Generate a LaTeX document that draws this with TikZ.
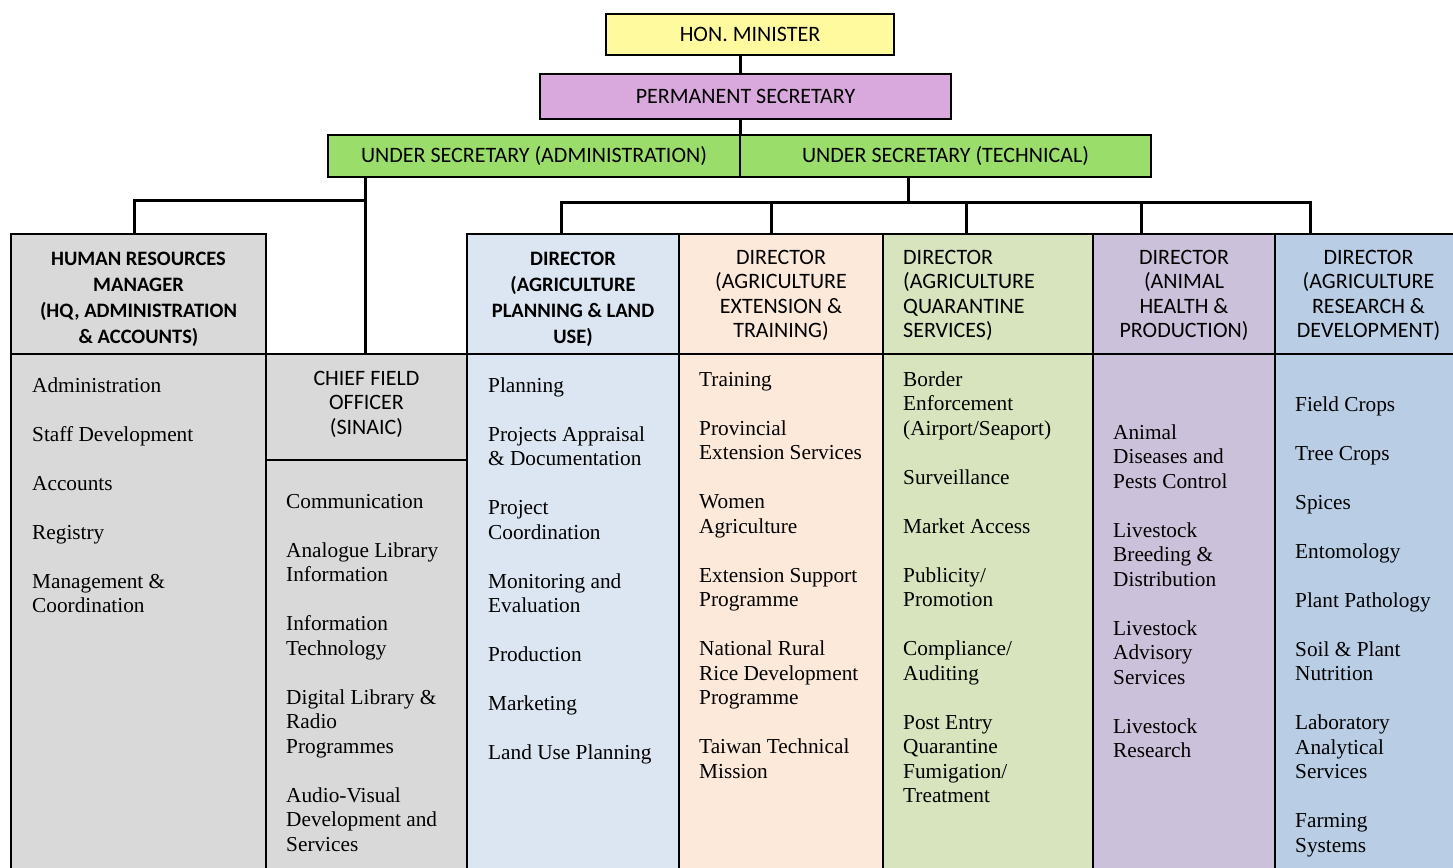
\documentclass[tikz,border=0pt]{standalone}
\usepackage{fontspec}
\setmainfont{Liberation Serif}
\newfontfamily\hfont{Carlito}
\definecolor{cMin}{HTML}{FFFA9E}
\definecolor{cPS}{HTML}{D9A8DC}
\definecolor{cUS}{HTML}{9ADD6A}
\definecolor{cGray}{HTML}{D9D9D9}
\definecolor{cPlan}{HTML}{DCE6F2}
\definecolor{cExt}{HTML}{FDE9D9}
\definecolor{cQuar}{HTML}{D7E4BD}
\definecolor{cAnim}{HTML}{CCC1DA}
\definecolor{cRes}{HTML}{B9CDE5}

% rectangle node from its corner coordinates: name, x1, y1, x2, y2, fill
\newcommand\orgbox[6]{%
  \node[box, fill=#6, minimum width={(#4-#2)*1pt}, minimum height={(#5-#3)*1pt}]
    (#1) at ({(#2+#4)/2},{(#3+#5)/2}) {};}
% one text node per line; empty entries leave a blank line
\newcommand\lines[6]{%
  \foreach \t [count=\i from 0] in {#6}
    \node[#5] (#1-\i) at (#2,{#3+\i*#4}) {\t};}

\begin{document}
\begin{tikzpicture}[x=1pt,y=-1pt,
  box/.style={draw=black, line width=2.2pt, inner sep=0pt, outer sep=0pt, rectangle},
  link/.style={draw=black, line width=3pt},
  toptext/.style={font=\hfont\fontsize{22}{24}\selectfont},
  item/.style={anchor=base west, inner sep=0pt, font=\fontsize{21.3}{24.5}\selectfont},
  hreg/.style={anchor=base, inner sep=0pt, font=\hfont\fontsize{22}{24.5}\selectfont},
  hregl/.style={anchor=base west, inner sep=0pt, font=\hfont\fontsize{22}{24.5}\selectfont},
  hbold/.style={anchor=base, inner sep=0pt, font=\hfont\bfseries\fontsize{20.5}{26}\selectfont},
]
\useasboundingbox (0,0) rectangle (1453,867);
\fill[white] (0,0) rectangle (1453,867);
\clip (0,0) rectangle (1453,867);

% top of the hierarchy
\orgbox{minister}{606}{14}{894}{55}{cMin}
\orgbox{ps}{540}{74}{951}{119}{cPS}
\orgbox{usadmin}{328}{135}{740}{177}{cUS}
\orgbox{ustech}{740}{135}{1151}{177}{cUS}
\node[toptext] at (minister) {HON. MINISTER};
\node[toptext] at (ps) {PERMANENT SECRETARY};
\node[toptext] at (usadmin) {UNDER SECRETARY (ADMINISTRATION)};
\node[toptext] at (ustech) {UNDER SECRETARY (TECHNICAL)};

% department columns: bodies first, then headers
\orgbox{hrbody}{11}{354}{266}{900}{cGray}
\orgbox{cfobody}{266}{460}{467}{900}{cGray}
\orgbox{planbody}{467}{354}{679}{900}{cPlan}
\orgbox{extbody}{679}{354}{883}{900}{cExt}
\orgbox{quarbody}{883}{354}{1093}{900}{cQuar}
\orgbox{animbody}{1093}{354}{1275}{900}{cAnim}
\orgbox{resbody}{1275}{354}{1475}{900}{cRes}

\orgbox{hr}{11}{234}{266}{354}{cGray}
\orgbox{cfo}{266}{354}{467}{460}{cGray}
\orgbox{plan}{467}{234}{679}{354}{cPlan}
\orgbox{ext}{679}{234}{883}{354}{cExt}
\orgbox{quar}{883}{234}{1093}{354}{cQuar}
\orgbox{anim}{1093}{234}{1275}{354}{cAnim}
\orgbox{res}{1275}{234}{1475}{354}{cRes}

% header titles
\lines{hrt}{138.5}{265}{26}{hbold}{HUMAN RESOURCES,MANAGER,{(HQ, ADMINISTRATION},\& ACCOUNTS)}
\lines{cfot}{366.5}{385}{24.5}{hreg}{CHIEF FIELD,OFFICER,{(SINAIC)}}
\lines{plant}{573}{265}{26}{hbold}{DIRECTOR,{(AGRICULTURE},PLANNING \& LAND,USE)}
\lines{extt}{781}{264}{24.5}{hreg}{DIRECTOR,{(AGRICULTURE},EXTENSION \&,TRAINING)}
\lines{quart}{903}{264}{24.5}{hregl}{DIRECTOR,{(AGRICULTURE},QUARANTINE,SERVICES)}
\lines{animt}{1184}{264}{24.5}{hreg}{DIRECTOR,{(ANIMAL},HEALTH \&,PRODUCTION)}
\lines{rest}{1368.5}{264}{24.5}{hreg}{DIRECTOR,{(AGRICULTURE},RESEARCH \&,DEVELOPMENT)}

% units under each head
\lines{hri}{32}{392}{24.5}{item}{Administration,,Staff Development,,Accounts,,Registry,,Management \&,Coordination}
\lines{cfoi}{286}{508}{24.5}{item}{Communication,,Analogue Library,Information,,Information,Technology,,Digital Library \&,Radio,Programmes,,Audio-Visual,Development and,Services}
\lines{plani}{488}{392}{24.5}{item}{Planning,,Projects Appraisal,\& Documentation,,Project,Coordination,,Monitoring and,Evaluation,,Production,,Marketing,,Land Use Planning}
\lines{exti}{699}{386}{24.5}{item}{Training,,Provincial,Extension Services,,Women,Agriculture,,Extension Support,Programme,,National Rural,Rice Development,Programme,,Taiwan Technical,Mission}
\lines{quari}{903}{386}{24.5}{item}{Border,Enforcement,{(Airport/Seaport)},,Surveillance,,Market Access,,Publicity/,Promotion,,Compliance/,Auditing,,Post Entry,Quarantine,Fumigation/,Treatment}
\lines{animi}{1113}{439}{24.5}{item}{Animal,Diseases and,Pests Control,,Livestock,Breeding \&,Distribution,,Livestock,Advisory,Services,,Livestock,Research}
\lines{resi}{1295}{411}{24.5}{item}{Field Crops,,Tree Crops,,Spices,,Entomology,,Plant Pathology,,Soil \& Plant,Nutrition,,Laboratory,Analytical,Services,,Farming,Systems}

% reporting lines
\draw[link] (minister.south -| usadmin.north east) -- (ps.north -| usadmin.north east);
\draw[link] (ps.south -| usadmin.north east) -- (usadmin.north east);
\draw[link] (usadmin.south -| 365,0) -- (cfo.north -| 365,0);
\draw[link] (hr.north -| 134,0) |- (365,200);
\draw[link] (ustech.south -| 908,0) -- (908,202);
\draw[link] (plan.north -| 561,0) |- (1310,202) -- (res.north -| 1310,0);
\draw[link] (771,202) -- (ext.north -| 771,0);
\draw[link] (966,202) -- (quar.north -| 966,0);
\draw[link] (1141,202) -- (anim.north -| 1141,0);
\end{tikzpicture}
\end{document}
